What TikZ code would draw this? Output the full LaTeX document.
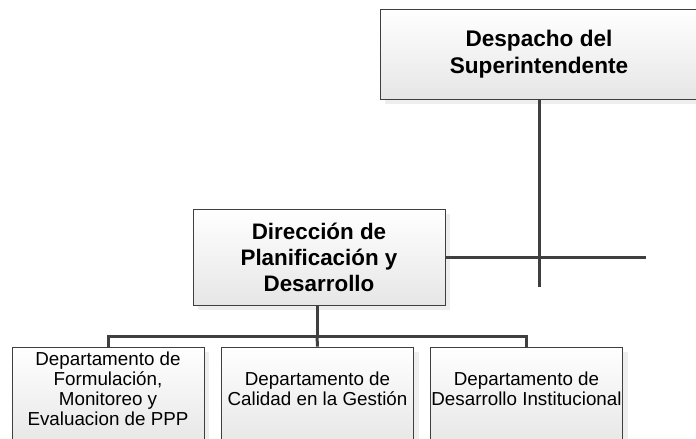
\documentclass[tikz,border=0pt]{standalone}
\usepackage{fontspec}
\setmainfont{Liberation Sans}
\usepackage{xcolor}
\usetikzlibrary{shadows}
\definecolor{lineg}{HTML}{3F3F3F}
\definecolor{boxg}{HTML}{E6E6E6}
\tikzset{
  orgbox/.style={draw=lineg, line width=0.8pt, top color=white, bottom color=boxg,
    drop shadow={shadow xshift=5pt, shadow yshift=-5pt, fill=black!13},
    inner sep=0pt, align=center},
  deptbox/.style={orgbox, minimum width=192pt, minimum height=100pt},
  deptlabel/.style={align=center, yshift=8pt, font=\fontsize{18.8}{20}\selectfont},
  link/.style={draw=lineg, line width=3pt}
}
\begin{document}
\begin{tikzpicture}[x=1pt, y=-1pt]
		\useasboundingbox (0,0) rectangle (696,439);
		\node[orgbox, minimum width=318pt, minimum height=90pt,
		  font=\fontsize{22.6}{27}\selectfont\bfseries] (desp) at (539,54)
		  {Despacho del\\Superintendente};
		\node[orgbox, minimum width=252pt, minimum height=96pt,
		  font=\fontsize{22.4}{26}\selectfont\bfseries] (dir) at (319,257)
		  {Dirección de\\Planificación y\\Desarrollo};
%		departments
		\node[deptbox, label={[deptlabel]center:Departamento de\\Formulación,\\Monitoreo y\\Evaluacion de PPP}] (dep1) at (108,397) {};
		\node[deptbox, label={[deptlabel]center:Departamento de\\Calidad en la Gestión}] (dep2) at (317.5,397) {};
		\node[deptbox, label={[deptlabel]center:Departamento de\\Desarrollo Institucional}] (dep3) at (526.5,397) {};
%		connectors
		\coordinate (vend) at (539,287);
		\coordinate (hend) at (646,257);
		\coordinate (bus) at (317,336);
		\draw[link] (desp.south) -- (vend);
		\draw[link] (dir.east) -- (hend);
		\draw[link] (dir.south -| bus) -- (bus);
		\draw[link] (dep1.north) |- (bus) -| (dep3.north);
		\draw[link] (bus) -- (dep2.north);
	\end{tikzpicture}
\end{document}
